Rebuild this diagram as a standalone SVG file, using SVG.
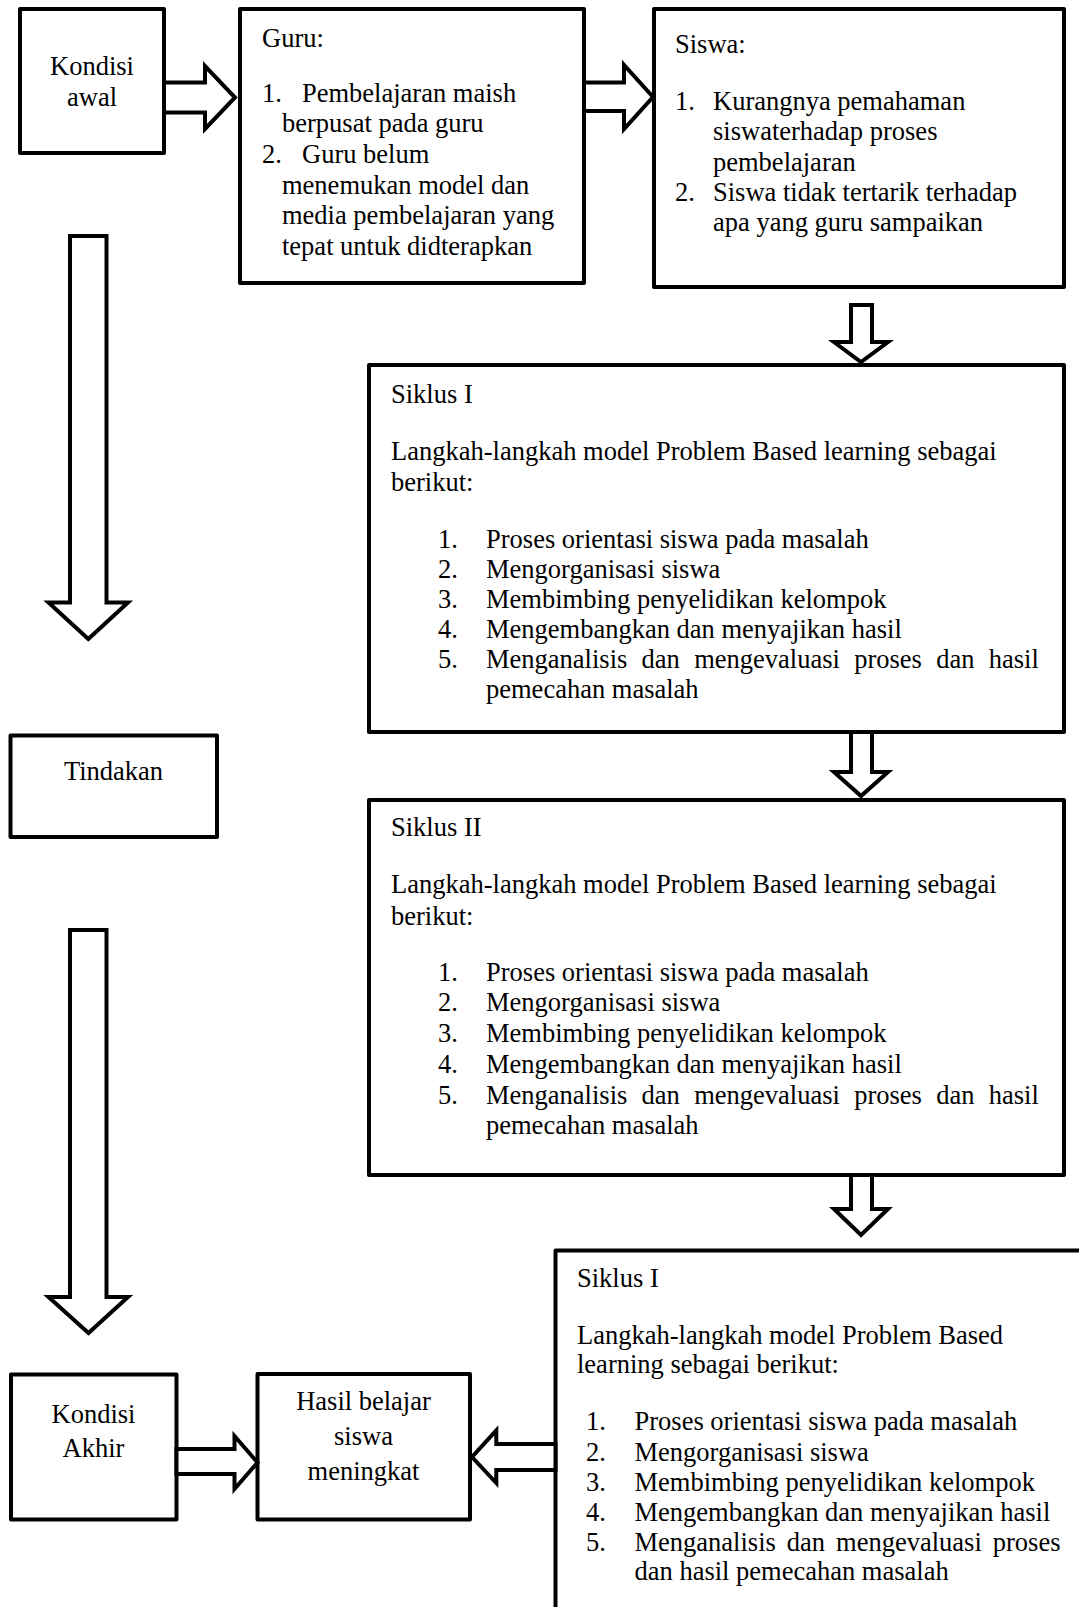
<svg xmlns="http://www.w3.org/2000/svg" width="1079" height="1607" viewBox="0 0 1079 1607">
<style>
.t{font-family:"Liberation Serif","Times New Roman",serif;font-size:26.5px;fill:#000}
.c{text-anchor:middle}
.box{fill:#fff;stroke:#000;stroke-width:4;stroke-linejoin:round}
.arr{fill:#fff;stroke:#000;stroke-width:4;stroke-linejoin:miter;stroke-miterlimit:10}
</style>
<rect x="0" y="0" width="1079" height="1607" fill="#fff"/>

<g id="kondisi-awal">
<rect class="box" x="20" y="9" width="144" height="144"/>
<text class="t c" x="92" y="75">Kondisi</text>
<text class="t c" x="92" y="106">awal</text>
</g>

<g id="guru">
<rect class="box" x="240" y="9" width="344" height="274"/>
<text class="t" x="262" y="47">Guru:</text>
<text class="t" x="262" y="102">1.</text>
<text class="t" x="302" y="102">Pembelajaran maish</text>
<text class="t" x="282" y="132">berpusat pada guru</text>
<text class="t" x="262" y="163">2.</text>
<text class="t" x="302" y="163">Guru belum</text>
<text class="t" x="282" y="194">menemukan model dan</text>
<text class="t" x="282" y="224">media pembelajaran yang</text>
<text class="t" x="282" y="255">tepat untuk didterapkan</text>
</g>

<g id="siswa">
<rect class="box" x="654" y="9" width="410" height="278"/>
<text class="t" x="675" y="53">Siswa:</text>
<text class="t" x="675" y="110">1.</text>
<text class="t" x="713" y="110">Kurangnya pemahaman</text>
<text class="t" x="713" y="140">siswaterhadap proses</text>
<text class="t" x="713" y="171">pembelajaran</text>
<text class="t" x="675" y="201">2.</text>
<text class="t" x="713" y="201">Siswa tidak tertarik terhadap</text>
<text class="t" x="713" y="231">apa yang guru sampaikan</text>
</g>

<g id="siklus-1">
<rect class="box" x="369" y="365" width="695" height="367"/>
<text class="t" x="391" y="403">Siklus I</text>
<text class="t" x="391" y="460">Langkah-langkah model Problem Based learning sebagai</text>
<text class="t" x="391" y="491">berikut:</text>
<text class="t" x="438" y="548">1.</text>
<text class="t" x="486" y="548">Proses orientasi siswa pada masalah</text>
<text class="t" x="438" y="578">2.</text>
<text class="t" x="486" y="578">Mengorganisasi siswa</text>
<text class="t" x="438" y="608">3.</text>
<text class="t" x="486" y="608">Membimbing penyelidikan kelompok</text>
<text class="t" x="438" y="638">4.</text>
<text class="t" x="486" y="638">Mengembangkan dan menyajikan hasil</text>
<text class="t" x="438" y="668">5.</text>
<text class="t" y="668"><tspan x="486">Menganalisis</tspan><tspan x="641.6">dan</tspan><tspan x="694.2">mengevaluasi</tspan><tspan x="854.2">proses</tspan><tspan x="936.2">dan</tspan><tspan x="988.8">hasil</tspan></text>
<text class="t" x="486" y="698">pemecahan masalah</text>
</g>

<g id="tindakan">
<rect class="box" x="10.5" y="735.5" width="206.5" height="101.5"/>
<text class="t c" x="113.5" y="780">Tindakan</text>
</g>

<g id="siklus-2">
<rect class="box" x="369" y="800" width="695" height="375"/>
<text class="t" x="391" y="836">Siklus II</text>
<text class="t" x="391" y="893">Langkah-langkah model Problem Based learning sebagai</text>
<text class="t" x="391" y="925">berikut:</text>
<text class="t" x="438" y="981">1.</text>
<text class="t" x="486" y="981">Proses orientasi siswa pada masalah</text>
<text class="t" x="438" y="1011">2.</text>
<text class="t" x="486" y="1011">Mengorganisasi siswa</text>
<text class="t" x="438" y="1042">3.</text>
<text class="t" x="486" y="1042">Membimbing penyelidikan kelompok</text>
<text class="t" x="438" y="1073">4.</text>
<text class="t" x="486" y="1073">Mengembangkan dan menyajikan hasil</text>
<text class="t" x="438" y="1104">5.</text>
<text class="t" y="1104"><tspan x="486">Menganalisis</tspan><tspan x="641.6">dan</tspan><tspan x="694.2">mengevaluasi</tspan><tspan x="854.2">proses</tspan><tspan x="936.2">dan</tspan><tspan x="988.8">hasil</tspan></text>
<text class="t" x="486" y="1134">pemecahan masalah</text>
</g>

<g id="siklus-1-bawah">
<path d="M555.5,1607 V1250.5 H1079" fill="none" stroke="#000" stroke-width="4" stroke-linejoin="round"/>
<text class="t" x="577" y="1287">Siklus I</text>
<text class="t" x="577" y="1344">Langkah-langkah model Problem Based</text>
<text class="t" x="577" y="1373">learning sebagai berikut:</text>
<text class="t" x="586" y="1430">1.</text>
<text class="t" x="634.5" y="1430">Proses orientasi siswa pada masalah</text>
<text class="t" x="586" y="1461">2.</text>
<text class="t" x="634.5" y="1461">Mengorganisasi siswa</text>
<text class="t" x="586" y="1491">3.</text>
<text class="t" x="634.5" y="1491">Membimbing penyelidikan kelompok</text>
<text class="t" x="586" y="1521">4.</text>
<text class="t" x="634.5" y="1521">Mengembangkan dan menyajikan hasil</text>
<text class="t" x="586" y="1551">5.</text>
<text class="t" y="1551"><tspan x="634.5">Menganalisis</tspan><tspan x="786.8">dan</tspan><tspan x="836.1">mengevaluasi</tspan><tspan x="992.8">proses</tspan></text>
<text class="t" x="634.5" y="1580">dan hasil pemecahan masalah</text>
</g>

<g id="kondisi-akhir">
<rect class="box" x="11" y="1374.5" width="165.5" height="145"/>
<text class="t c" x="93.5" y="1423">Kondisi</text>
<text class="t c" x="93.5" y="1457">Akhir</text>
</g>

<g id="hasil-belajar">
<rect class="box" x="257.5" y="1374" width="212.5" height="145.5"/>
<text class="t c" x="363.5" y="1410">Hasil belajar</text>
<text class="t c" x="363.5" y="1445">siswa</text>
<text class="t c" x="363.5" y="1480">meningkat</text>
</g>

<g id="connectors">
<polygon class="arr" points="164,82.5 205,82.5 205,66 235,97.5 205,129 205,112.5 164,112.5"/>
<polygon class="arr" points="584,82.5 624,82.5 624,65 653,97 624,129 624,111 584,111"/>
<polygon class="arr" points="851,305 872,305 872,342 888,342 861,362 834,342 851,342"/>
<polygon class="arr" points="851,732 872,732 872,772 888,772 861,796 834,772 851,772"/>
<polygon class="arr" points="851,1175 872,1175 872,1209 888,1209 861,1235 834,1209 851,1209"/>
<polygon class="arr" points="70,236 106.5,236 106.5,602.5 128,602.5 88.3,639 48.5,602.5 70,602.5"/>
<polygon class="arr" points="70,930 106.5,930 106.5,1297 128,1297 88.5,1333 48.5,1297 70,1297"/>
<polygon class="arr" points="176.5,1449 234.5,1449 234.5,1436 257.5,1462.5 234.5,1489 234.5,1474 176.5,1474"/>
<polygon class="arr" points="555.5,1444 496.3,1444 496.3,1430.5 472,1457 496.3,1483 496.3,1470 555.5,1470"/>
</g>
</svg>
